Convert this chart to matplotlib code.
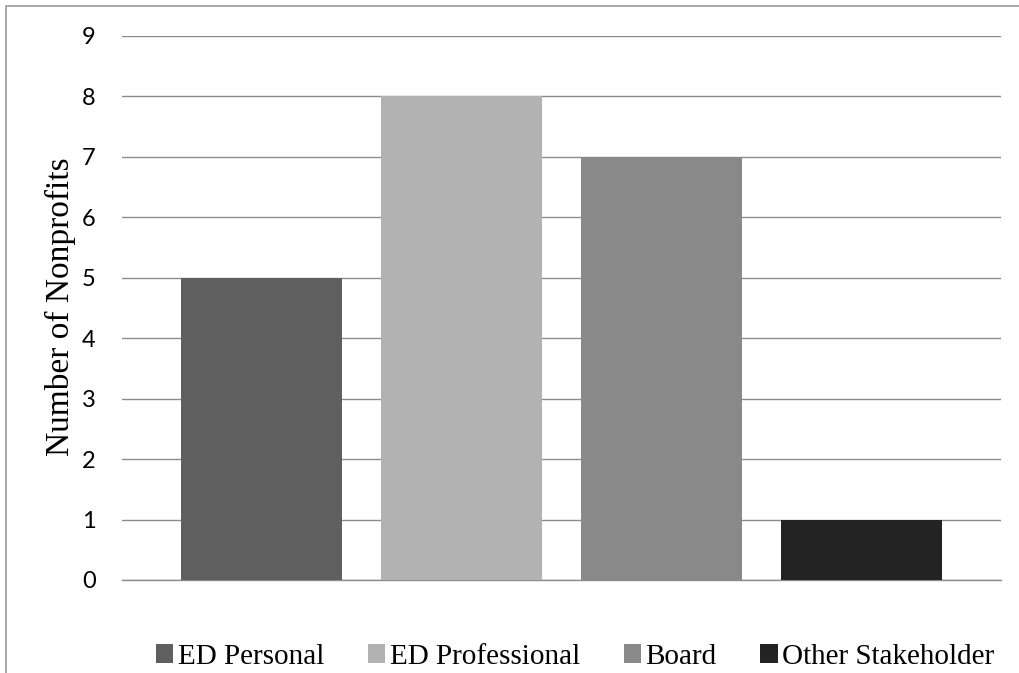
import matplotlib
matplotlib.use("Agg")
import matplotlib.pyplot as plt
from matplotlib.patches import Rectangle

categories = ["ED Personal", "ED Professional", "Board", "Other Stakeholder"]
counts = [5, 8, 7, 1]
colors = ["#5f5f5f", "#b2b2b2", "#898989", "#232323"]
yticks = list(range(0, 10))

W, H = 1020, 673
fig = plt.figure(figsize=(W / 100, H / 100), dpi=100)

# chart-area border (runs off the right and bottom edges)
fig.patches.append(Rectangle((6.5 / W, -0.05), 1.2, 1 - 6.5 / H + 0.05,
                             transform=fig.transFigure, fill=False,
                             edgecolor="#a0a0a0", linewidth=1.3))

left, right = 122 / W, 1001 / W
top, bottom = 1 - 36 / H, 1 - 580 / H
ax = fig.add_axes([left, bottom, right - left, top - bottom])

positions = list(range(len(categories)))
handles = ax.bar(positions, counts, width=0.805, color=colors, zorder=3)

ax.set_xlim(-0.6975, 3.6975)
ax.set_ylim(0, 9)
ax.set_yticks(yticks)
ax.set_yticklabels([str(t) for t in yticks], fontfamily="Lato", fontsize=17)
ax.tick_params(axis="y", length=0, pad=19)
ax.set_xticks([])
ax.yaxis.grid(True, color="#8c8c8c", linewidth=1.0, zorder=0)
for side in ("left", "right", "top"):
    ax.spines[side].set_visible(False)
ax.spines["bottom"].set_color("#8c8c8c")
ax.spines["bottom"].set_linewidth(1.0)

fig.text(60 / W, 1 - 307 / H, "Number of Nonprofits", rotation=90,
         ha="center", va="center", fontfamily="Liberation Serif", fontsize=24)

fig.legend(handles, categories, loc="center", bbox_to_anchor=(575 / W, 1 - 657 / H),
           ncol=4, frameon=False, prop={"family": "Liberation Serif", "size": 21},
           handlelength=0.6, handleheight=0.6, handletextpad=0.15, columnspacing=1.5,
           borderpad=0)

fig.savefig("out.png", dpi=100)
